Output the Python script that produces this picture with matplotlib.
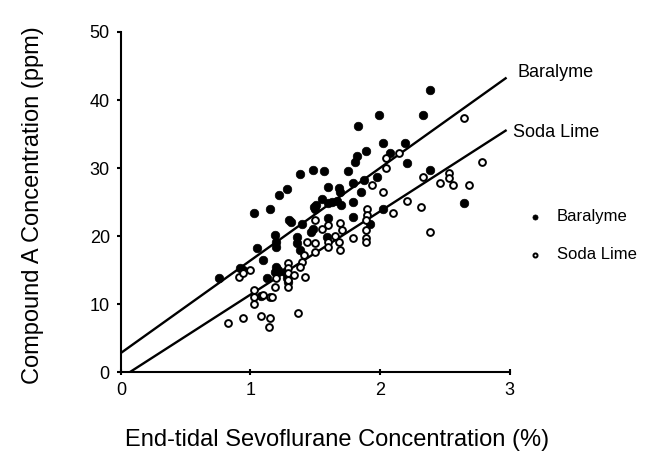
import matplotlib
matplotlib.use("Agg")
import matplotlib.pyplot as plt
import numpy as np

plt.rcParams['font.family'] = ['Liberation Sans', 'DejaVu Sans']

# Baralyme (filled circles)
bara_x = [0.76, 0.92, 0.94, 1.03, 1.05, 1.10, 1.13, 1.15, 1.19, 1.20, 1.20, 1.20, 1.19,
          1.21, 1.22, 1.27, 1.28, 1.29, 1.28, 1.30, 1.31, 1.36, 1.36, 1.38, 1.38, 1.40,
          1.48, 1.48, 1.47, 1.49, 1.51, 1.50, 1.57, 1.59, 1.60, 1.60, 1.63, 1.67, 1.60,
          1.68, 1.69, 1.75, 1.79, 1.79, 1.79, 1.82, 1.81, 1.83, 1.85, 1.88, 1.89, 1.92,
          1.98, 1.99, 2.02, 2.02, 2.08, 2.19, 2.21, 2.33, 2.39, 2.39, 2.65, 1.08, 1.70,
          1.55]
bara_y = [13.8, 15.3, 15.0, 23.4, 18.3, 16.5, 13.8, 23.9, 20.2, 19.1, 18.4, 15.5, 14.7,
          15.0, 26.1, 14.7, 13.8, 13.3, 26.9, 22.4, 22.0, 19.9, 19.0, 18.0, 29.1, 21.8,
          29.7, 21.1, 20.6, 24.3, 24.6, 24.0, 29.5, 19.9, 22.7, 24.9, 25.0, 25.2, 27.2,
          27.1, 26.5, 29.6, 27.8, 25.0, 22.8, 31.7, 30.9, 36.2, 26.5, 28.3, 32.5, 21.8,
          28.7, 37.8, 33.7, 24.0, 32.2, 33.7, 30.8, 37.8, 29.7, 41.4, 24.9, 11.2, 24.5,
          25.5]

# Soda Lime (open circles)
soda_x = [0.83, 0.91, 0.94, 1.00, 0.94, 1.03, 1.03, 1.03, 1.08, 1.10, 1.15, 1.17, 1.15,
          1.14, 1.20, 1.19, 1.29, 1.29, 1.29, 1.29, 1.29, 1.34, 1.42, 1.37, 1.41, 1.40,
          1.38, 1.44, 1.50, 1.50, 1.50, 1.60, 1.60, 1.60, 1.69, 1.71, 1.68, 1.69, 1.79,
          1.90, 1.90, 1.89, 1.89, 1.89, 1.89, 1.94, 2.02, 2.05, 2.05, 2.10, 2.15, 2.21,
          2.32, 2.33, 2.39, 2.46, 2.53, 2.53, 2.56, 2.69, 2.79, 2.65, 1.65, 1.55]
soda_y = [7.2, 14.0, 14.6, 15.0, 8.0, 12.1, 11.0, 10.0, 8.2, 11.3, 11.0, 11.0, 8.0,
          6.6, 13.8, 12.5, 16.1, 15.3, 14.6, 13.5, 12.5, 14.3, 14.0, 8.7, 17.2, 16.2,
          15.5, 19.1, 19.0, 17.7, 22.4, 21.6, 19.1, 18.4, 21.9, 20.9, 19.1, 18.0, 19.7,
          23.9, 23.1, 22.4, 20.9, 19.7, 19.1, 27.5, 26.5, 31.5, 30.0, 23.4, 32.2, 25.1,
          24.3, 28.7, 20.6, 27.8, 29.3, 28.6, 27.5, 27.5, 30.9, 37.4, 20.0, 21.0]

# regression lines: intercept, slope, x range
bara_fit = (2.8, 13.6)
soda_fit = (-0.86, 12.24)
fit_x_end = 2.97

fig = plt.figure(figsize=(6.57, 4.61), dpi=100)
ax = fig.add_axes([0.184, 0.193, 0.5915, 0.7376])

ax.scatter(bara_x, bara_y, s=38, color='black', edgecolors='black', linewidths=0.5,
           label='Baralyme', zorder=3)
ax.scatter(soda_x, soda_y, s=24, facecolors='white', edgecolors='black', linewidths=1.4,
           label='Soda Lime', zorder=3)

bx = np.array([0, fit_x_end])
ax.plot(bx, bara_fit[0] + bara_fit[1] * bx, color='black', lw=1.7, zorder=2)
sx = np.array([-soda_fit[0] / soda_fit[1], fit_x_end])
ax.plot(sx, soda_fit[0] + soda_fit[1] * sx, color='black', lw=1.7, zorder=2)

ax.text(3.06, 44.0, 'Baralyme', fontsize=13, va='center', ha='left', clip_on=False)
ax.text(3.03, 35.2, 'Soda Lime', fontsize=13, va='center', ha='left', clip_on=False)

ax.set_xlim(0, 3)
ax.set_ylim(0, 50)
ax.set_xticks([0, 1, 2, 3])
ax.set_yticks([0, 10, 20, 30, 40, 50])
for s in ['top', 'right']:
    ax.spines[s].set_visible(False)
for s in ['left', 'bottom']:
    ax.spines[s].set_linewidth(1.5)
ax.tick_params(axis='x', direction='inout', length=5, width=1.5, labelsize=13, pad=5)
ax.tick_params(axis='y', direction='out', length=3, width=1.5, labelsize=13, pad=5)

ax.legend(loc='center left', bbox_to_anchor=(1.044, 0.401), frameon=False,
          fontsize=12, handlelength=1.0, handletextpad=0.8, labelspacing=1.4,
          borderpad=0, borderaxespad=0, markerscale=0.6)

fig.text(0.513, 0.046, 'End-tidal Sevoflurane Concentration (%)', fontsize=17,
         ha='center', va='center')
fig.text(0.050, 0.555, 'Compound A Concentration (ppm)', fontsize=17,
         ha='center', va='center', rotation=90)

fig.savefig('out.png', dpi=100)
